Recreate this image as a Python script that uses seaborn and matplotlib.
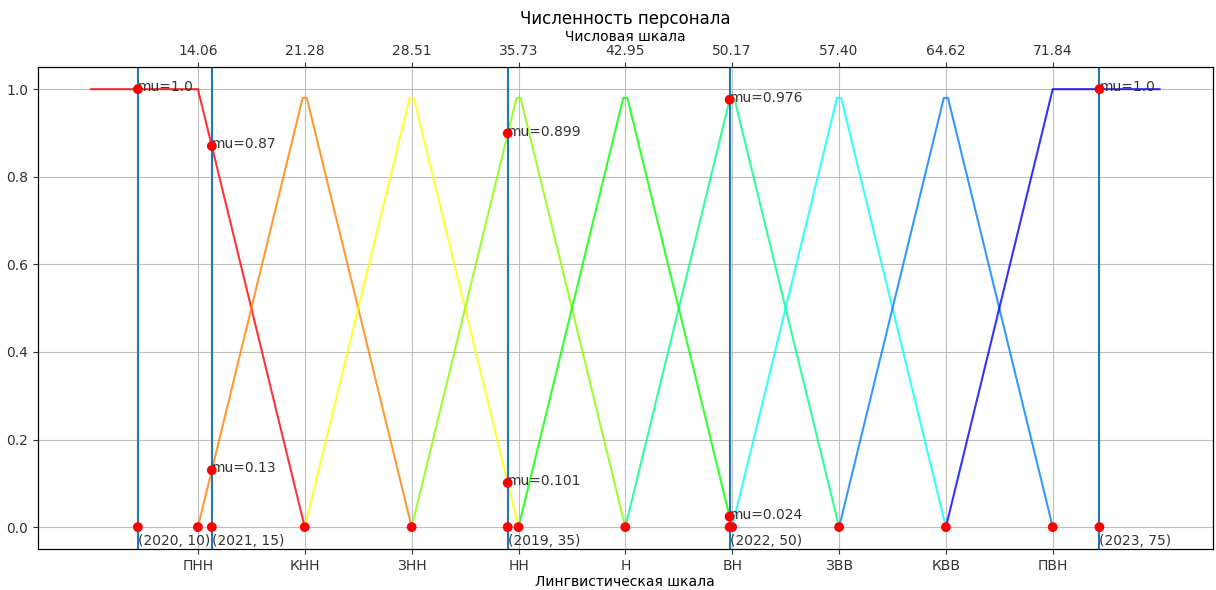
import matplotlib
matplotlib.use("Agg")
import matplotlib.pyplot as plt
import seaborn as sns
import pandas as pd
import numpy as np

# ---- data ----
centers = [14.06, 21.28, 28.51, 35.73, 42.95, 50.17, 57.40, 64.62, 71.84]
term_labels = ['ПНН', 'КНН', 'ЗНН', 'НН', 'Н', 'ВН', 'ЗВВ', 'КВВ', 'ПВН']
half_width = 7.22
peak_level = 0.98
curve_colors = ['#ff0000', '#ff8000', '#ffff00', '#80ff00', '#00ff00',
                '#00ff80', '#00ffff', '#0080ff', '#0000ff']

obs_years = [2020, 2021, 2019, 2022, 2023]
obs_values = [10, 15, 35, 50, 75]
obs_mu = [[1.0], [0.87, 0.13], [0.899, 0.101], [0.976, 0.024], [1.0]]

title = 'Численность персонала'
top_label = 'Числовая шкала'
bottom_label = 'Лингвистическая шкала'

# ---- build curve tables ----
rows = []
n = len(centers)
plateau = 0.14
for i, c in enumerate(centers):
    if i == 0:
        xs = [c - half_width, c, centers[1]]
        ys = [1.0, 1.0, 0.0]
    elif i == n - 1:
        xs = [centers[n - 2], c, c + half_width]
        ys = [0.0, 1.0, 1.0]
    else:
        xs = [centers[i - 1], c - plateau, c + plateau, centers[i + 1]]
        ys = [0.0, peak_level, peak_level, 0.0]
    for k, (x, y) in enumerate(zip(xs, ys)):
        rows.append(dict(term=term_labels[i], order=k, x=x, mu=y))
curves = pd.DataFrame(rows)

pts_x, pts_y = [], []
for v, mus in zip(obs_values, obs_mu):
    for m in mus:
        pts_x.append(v); pts_y.append(m)
    pts_x.append(v); pts_y.append(0.0)
for c in centers:
    pts_x.append(c); pts_y.append(0.0)
points = pd.DataFrame(dict(x=pts_x, mu=pts_y))

# ---- plot ----
fig, ax = plt.subplots(figsize=(12.16, 5.9), dpi=100)
fig.subplots_adjust(left=0.031, right=0.9975, bottom=0.0695, top=0.886)

for term, col in zip(term_labels, curve_colors):
    d = curves[curves.term == term]
    sns.lineplot(data=d, x='x', y='mu', ax=ax, color=col, alpha=0.8,
                 sort=False, estimator=None, linewidth=1.5, legend=False)

for v in obs_values:
    ax.axvline(v, color='#1f77b4', linewidth=1.5)

sns.scatterplot(data=points, x='x', y='mu', ax=ax, color='red', s=50,
                edgecolor='none', zorder=5, legend=False)

for yr, v, mus in zip(obs_years, obs_values, obs_mu):
    for m in mus:
        ax.text(v, m - 0.005, f'mu={m}', fontsize=10, color='#333333')
    ax.text(v, -0.04, f'({yr}, {v})', fontsize=10, color='#333333')

ax.set_xticks(centers)
ax.set_xticklabels(term_labels)
ax.set_xlabel(bottom_label, labelpad=2)
ax.set_ylabel('')
ax.grid(True, color='#b0b0b0', linewidth=0.8, alpha=0.8)
ax.set_yticks([0.0, 0.2, 0.4, 0.6, 0.8, 1.0])
ax.margins(x=0.05, y=0.05)
ax.set_ylim(-0.05, 1.05)

xlim = ax.get_xlim()
ax2 = ax.twiny()
ax2.set_xlim(xlim)
ax2.set_xticks(centers)
ax2.set_xticklabels([f'{c:.2f}' for c in centers])
ax2.set_xlabel(top_label, labelpad=2)
ax2.set_title(title, fontsize=12, pad=4)

for a in (ax, ax2):
    a.tick_params(colors='#333333', labelcolor='#333333')

fig.savefig('out.png', dpi=100)
